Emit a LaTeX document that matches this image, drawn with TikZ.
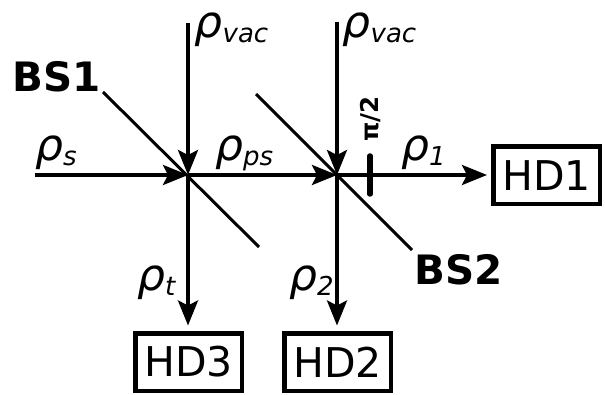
\documentclass[tikz,border=0pt]{standalone}
\usepackage{fontspec}
\setmainfont{DejaVu Sans}
\usetikzlibrary{arrows.meta}
\newcommand{\rhosub}[1]{{\itshape\fontsize{44}{44}\selectfont ρ\raisebox{-5pt}{\fontsize{26}{26}\selectfont #1}}}
\tikzset{
  beam/.style={line width=3.5pt,-{Stealth[length=25pt,width=20pt,inset=5pt]}},
  splitter/.style={line width=3pt},
  detector/.style={draw,line width=4.5pt,minimum width=106.5pt,minimum height=57.5pt,inner sep=0pt,font=\fontsize{41}{41}\selectfont},
  lbl/.style={anchor=base west,inner sep=0pt},
  bold/.style={lbl,font=\fontsize{40.5}{40.5}\selectfont\bfseries}
}
\begin{document}
\begin{tikzpicture}[x=1pt,y=-1pt]
\useasboundingbox (0,0) rectangle (605,395);
\coordinate (c1) at (188,175);
\coordinate (c2) at (337,175);
\coordinate (s) at (35,175);
\coordinate (v1) at (188,23);
\coordinate (v2) at (337,22);
\coordinate (b1a) at (103,92);
\coordinate (b1b) at (259,247);
\coordinate (b2a) at (256,94);
\coordinate (b2b) at (412,250);
\coordinate (pa) at (370,156);
\coordinate (pb) at (370,194);
\coordinate (t3) at (188,325.5);
\coordinate (t2) at (337,325.5);
\coordinate (t1) at (487,175);
\node[detector] (hd1) at (546.5,175.5) {HD1};
\node[detector] (hd2) at (337.5,362) {HD2};
\node[detector] (hd3) at (188.5,362) {HD3};
\draw[splitter] (b1a) -- (b1b);
\draw[splitter] (b2a) -- (b2b);
\draw[beam] (s) -- (c1);
\draw[beam] (v1) -- (c1);
\draw[beam] (c1) -- (c2);
\draw[beam] (v2) -- (c2);
\draw[beam] (c1) -- (t3);
\draw[beam] (c2) -- (t2);
\draw[beam] (c2) -- (t1);
\draw[line width=5.5pt,line cap=round] (pa) -- (pb);
\node[lbl] (rv1) at (194.5,37.5) {\rhosub{vac}};
\node[lbl] (rv2) at (342.5,37.5) {\rhosub{vac}};
\node[lbl] (rs) at (35,160.5) {\rhosub{s}};
\node[lbl] (rps) at (215,160.5) {\rhosub{ps}};
\node[lbl] (r1) at (401,160.5) {\rhosub{1}};
\node[lbl] (rt) at (137,290.5) {\rhosub{t}};
\node[lbl] (r2) at (289,290.5) {\rhosub{2}};
\node[bold] (bs1) at (12,92) {BS1};
\node[bold] (bs2) at (414,285) {BS2};
\node[rotate=90,inner sep=0pt,font=\fontsize{24.5}{24.5}\selectfont\bfseries] (pi) at (371,119) {π/2};
\end{tikzpicture}
\end{document}
